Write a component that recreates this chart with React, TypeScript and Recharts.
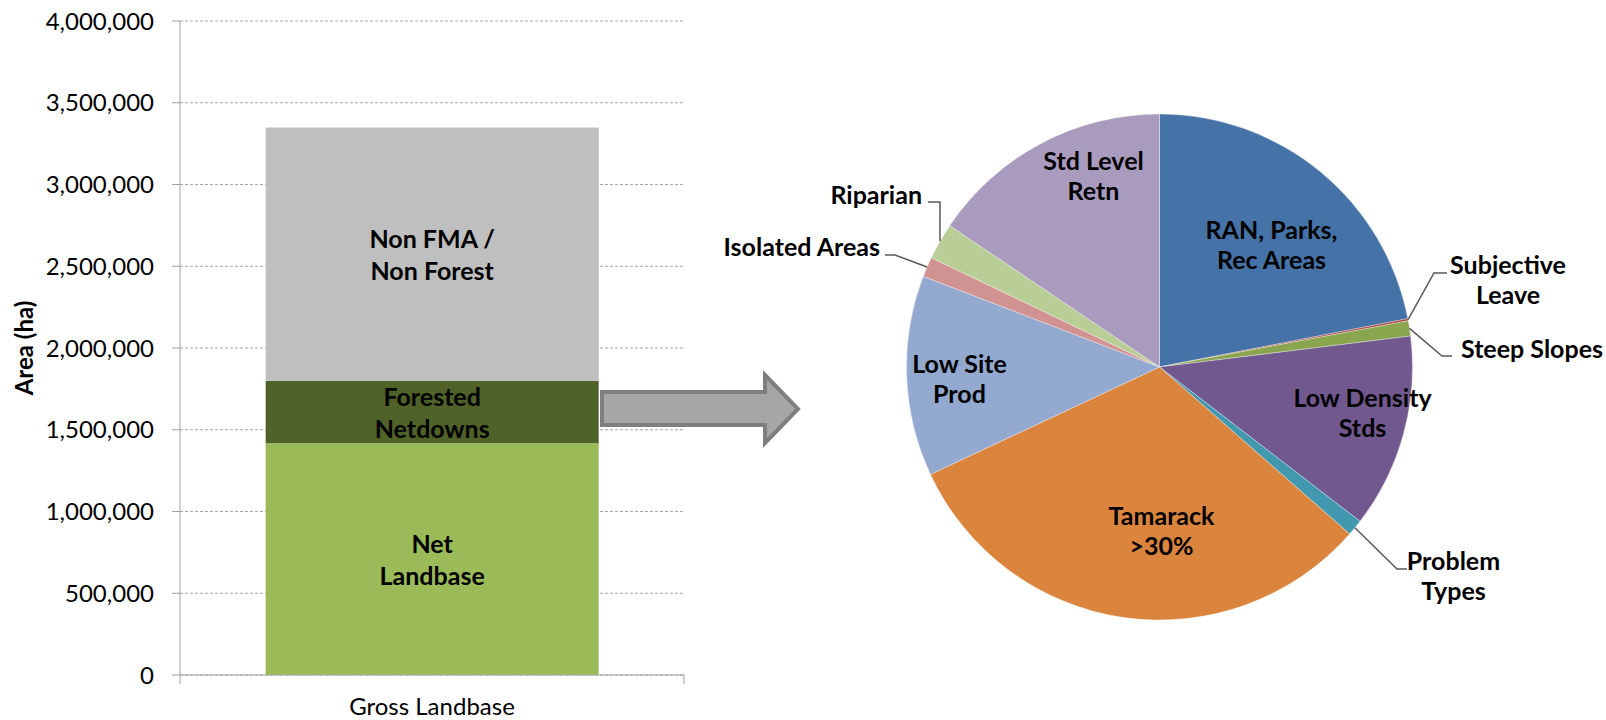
import React from "react";
import {
  Bar,
  BarChart,
  CartesianGrid,
  Cell,
  LabelList,
  Pie,
  PieChart,
  XAxis,
  YAxis,
} from "recharts";

const FONT = "Lato, 'Open Sans', sans-serif";
const AXIS = "#A0A0A0";

// stacked bar (ha)
const CATEGORIES = ["Gross Landbase"];
const NET_LANDBASE = [1418000];
const FORESTED_NETDOWNS = [382000];
const NON_FMA_NON_FOREST = [1549000];
const Y_TICKS = [0, 500000, 1000000, 1500000, 2000000, 2500000, 3000000, 3500000, 4000000];

// netdown breakdown (% of total)
const PIE_NAMES = [
  "RAN, Parks, Rec Areas",
  "Subjective Leave",
  "Steep Slopes",
  "Low Density Stds",
  "Problem Types",
  "Tamarack >30%",
  "Low Site Prod",
  "Isolated Areas",
  "Riparian",
  "Std Level Retn",
];
const PIE_VALUES = [21.94, 0.14, 0.97, 12.39, 1.03, 31.56, 12.81, 1.28, 2.33, 15.56];
const PIE_COLORS = [
  "#4572A7",
  "#AA4643",
  "#89A54E",
  "#71588F",
  "#4198AF",
  "#DB843D",
  "#93A9CF",
  "#D19392",
  "#B9CD96",
  "#A99BBD",
];

const barData = CATEGORIES.map((name, i) => ({
  name,
  net: NET_LANDBASE[i],
  forested: FORESTED_NETDOWNS[i],
  nonFma: NON_FMA_NON_FOREST[i],
}));
const pieData = PIE_NAMES.map((name, i) => ({ name, value: PIE_VALUES[i] }));

const BAR_W = 700;
const BAR_H = 720;
const Y_AXIS_W = 180;
const X_AXIS_H = 45;
const MARGIN = { top: 21, right: 16, left: 0, bottom: 0 };

// label placement, offsets from pie centre
type Inside = { kind: "in"; lines: string[]; dx: number; dy: number };
type Outside = {
  kind: "out";
  lines: string[];
  elbow: [number, number];
  end: [number, number];
  tx: number;
  ty: number;
  anchor: "start" | "middle" | "end";
};
const PIE_LABELS: Record<string, Inside | Outside> = {
  "RAN, Parks, Rec Areas": { kind: "in", lines: ["RAN, Parks,", "Rec Areas"], dx: 112, dy: -123 },
  "Subjective Leave": {
    kind: "out",
    lines: ["Subjective", "Leave"],
    elbow: [274.5, -94],
    end: [287.5, -94],
    tx: 348.5,
    ty: -103,
    anchor: "middle",
  },
  "Steep Slopes": {
    kind: "out",
    lines: ["Steep Slopes"],
    elbow: [282.5, -11],
    end: [292.5, -11],
    tx: 301.5,
    ty: -19,
    anchor: "start",
  },
  "Low Density Stds": { kind: "in", lines: ["Low Density", "Stds"], dx: 203, dy: 45 },
  "Problem Types": {
    kind: "out",
    lines: ["Problem", "Types"],
    elbow: [237.5, 202],
    end: [247.5, 202],
    tx: 294,
    ty: 193,
    anchor: "middle",
  },
  "Tamarack >30%": { kind: "in", lines: ["Tamarack", ">30%"], dx: 2, dy: 163 },
  "Low Site Prod": { kind: "in", lines: ["Low Site", "Prod"], dx: -200, dy: 11 },
  "Isolated Areas": {
    kind: "out",
    lines: ["Isolated Areas"],
    elbow: [-264.5, -112],
    end: [-274.5, -112],
    tx: -279.5,
    ty: -121,
    anchor: "end",
  },
  Riparian: {
    kind: "out",
    lines: ["Riparian"],
    elbow: [-219.5, -165],
    end: [-231.5, -165],
    tx: -237.5,
    ty: -173,
    anchor: "end",
  },
  "Std Level Retn": { kind: "in", lines: ["Std Level", "Retn"], dx: -66, dy: -192 },
};

const RADIAN = Math.PI / 180;
const LINE_GAP = 30;

function lineTexts(lines: string[], x: number, y: number, anchor: string) {
  return (
    <text
      textAnchor={anchor}
      dominantBaseline="central"
      fontFamily={FONT}
      fontWeight={700}
      fontSize={25}
      fill="#000"
    >
      {lines.map((l, i) => (
        <tspan key={i} x={x} y={y + i * LINE_GAP}>
          {l}
        </tspan>
      ))}
    </text>
  );
}

function renderPieLabel(props: any) {
  const cx = Number(props.cx);
  const cy = Number(props.cy);
  const spec = PIE_LABELS[props.name];
  if (!spec) return null;
  if (spec.kind === "in") {
    const top = cy + spec.dy - ((spec.lines.length - 1) * LINE_GAP) / 2;
    return lineTexts(spec.lines, cx + spec.dx, top, "middle");
  }
  const r = Number(props.outerRadius);
  const sx = cx + r * Math.cos(-props.midAngle * RADIAN);
  const sy = cy + r * Math.sin(-props.midAngle * RADIAN);
  const path = `M${sx},${sy}L${cx + spec.elbow[0]},${cy + spec.elbow[1]}L${cx + spec.end[0]},${cy + spec.end[1]}`;
  return (
    <g>
      <path d={path} stroke="#595959" strokeWidth={1.5} fill="none" />
      {lineTexts(spec.lines, cx + spec.tx, cy + spec.ty, spec.anchor)}
    </g>
  );
}

const BAR_LABELS: Record<string, string[]> = {
  net: ["Net", "Landbase"],
  forested: ["Forested", "Netdowns"],
  nonFma: ["Non FMA /", "Non Forest"],
};

function segmentLabel(key: string) {
  const lines = BAR_LABELS[key];
  return (p: any) => {
    const x = Number(p.x) + Number(p.width) / 2;
    const y = Number(p.y) + Number(p.height) / 2 - ((lines.length - 1) * 32) / 2;
    return (
      <text
        textAnchor="middle"
        dominantBaseline="central"
        fontFamily={FONT}
        fontWeight={700}
        fontSize={25}
        fill="#000"
      >
        {lines.map((l, i) => (
          <tspan key={i} x={x} y={y + i * 32}>
            {l}
          </tspan>
        ))}
      </text>
    );
  };
}

function CategoryTick(props: any) {
  const x = Number(props.x);
  const axisY = BAR_H - MARGIN.bottom - X_AXIS_H;
  const half = (BAR_W - Y_AXIS_W - MARGIN.left - MARGIN.right) / 2;
  return (
    <g>
      <line x1={x - half} x2={x - half} y1={axisY} y2={axisY + 9} stroke={AXIS} />
      <line x1={x + half} x2={x + half} y1={axisY} y2={axisY + 9} stroke={AXIS} />
      <text x={x} y={axisY + 40} textAnchor="middle" fontFamily={FONT} fontSize={24} fill="#000">
        {props.payload.value}
      </text>
    </g>
  );
}

function AreaLabel(props: any) {
  const vb = props.viewBox || {};
  const cy = Number(vb.y) + Number(vb.height) / 2;
  return (
    <text
      x={33}
      y={cy}
      transform={`rotate(-90, 33, ${cy})`}
      textAnchor="middle"
      fontFamily={FONT}
      fontWeight={700}
      fontSize={24}
      fill="#000"
    >
      Area (ha)
    </text>
  );
}

export default function App() {
  return (
    <div
      style={{
        position: "absolute",
        left: 0,
        top: 0,
        width: 1606,
        height: 720,
        background: "#fff",
        overflow: "hidden",
        fontFamily: FONT,
      }}
    >
      <div style={{ position: "absolute", left: 0, top: 0 }}>
        <BarChart width={BAR_W} height={BAR_H} data={barData} margin={MARGIN} barCategoryGap="17%">
          <CartesianGrid vertical={false} stroke="#A6A6A6" strokeDasharray="3 2" />
          <XAxis
            dataKey="name"
            height={X_AXIS_H}
            stroke={AXIS}
            tickLine={false}
            tick={<CategoryTick />}
          />
          <YAxis
            width={Y_AXIS_W}
            domain={[0, 4000000]}
            ticks={Y_TICKS}
            interval={0}
            stroke={AXIS}
            tickSize={8}
            tickMargin={18}
            tick={{ fill: "#000", fontSize: 24, fontFamily: FONT }}
            tickFormatter={(v: number) => v.toLocaleString("en-US")}
            label={<AreaLabel />}
          />
          <Bar dataKey="net" stackId="a" fill="#9BBB59" isAnimationActive={false}>
            <LabelList dataKey="net" content={segmentLabel("net")} />
          </Bar>
          <Bar dataKey="forested" stackId="a" fill="#4F6228" isAnimationActive={false}>
            <LabelList dataKey="forested" content={segmentLabel("forested")} />
          </Bar>
          <Bar dataKey="nonFma" stackId="a" fill="#BFBFBF" isAnimationActive={false}>
            <LabelList dataKey="nonFma" content={segmentLabel("nonFma")} />
          </Bar>
        </BarChart>
      </div>

      <svg
        width={220}
        height={100}
        style={{ position: "absolute", left: 590, top: 360 }}
        viewBox="590 360 220 100"
      >
        <polygon
          points="602,392 765,392 765,375 798,409 765,443 765,425 602,425"
          fill="#A6A6A6"
          stroke="#7F7F7F"
          strokeWidth={4}
          strokeLinejoin="miter"
        />
      </svg>

      <div style={{ position: "absolute", left: 700, top: 0 }}>
        <PieChart width={906} height={720} margin={{ top: 0, right: 0, bottom: 0, left: 0 }}>
          <Pie
            data={pieData}
            dataKey="value"
            nameKey="name"
            cx={459.5}
            cy={367}
            outerRadius={253}
            startAngle={90}
            endAngle={-270}
            stroke="rgba(255,255,255,0.55)"
            strokeWidth={0.6}
            labelLine={false}
            label={renderPieLabel}
            isAnimationActive={false}
          >
            {pieData.map((d, i) => (
              <Cell key={d.name} fill={PIE_COLORS[i]} />
            ))}
          </Pie>
        </PieChart>
      </div>
    </div>
  );
}
